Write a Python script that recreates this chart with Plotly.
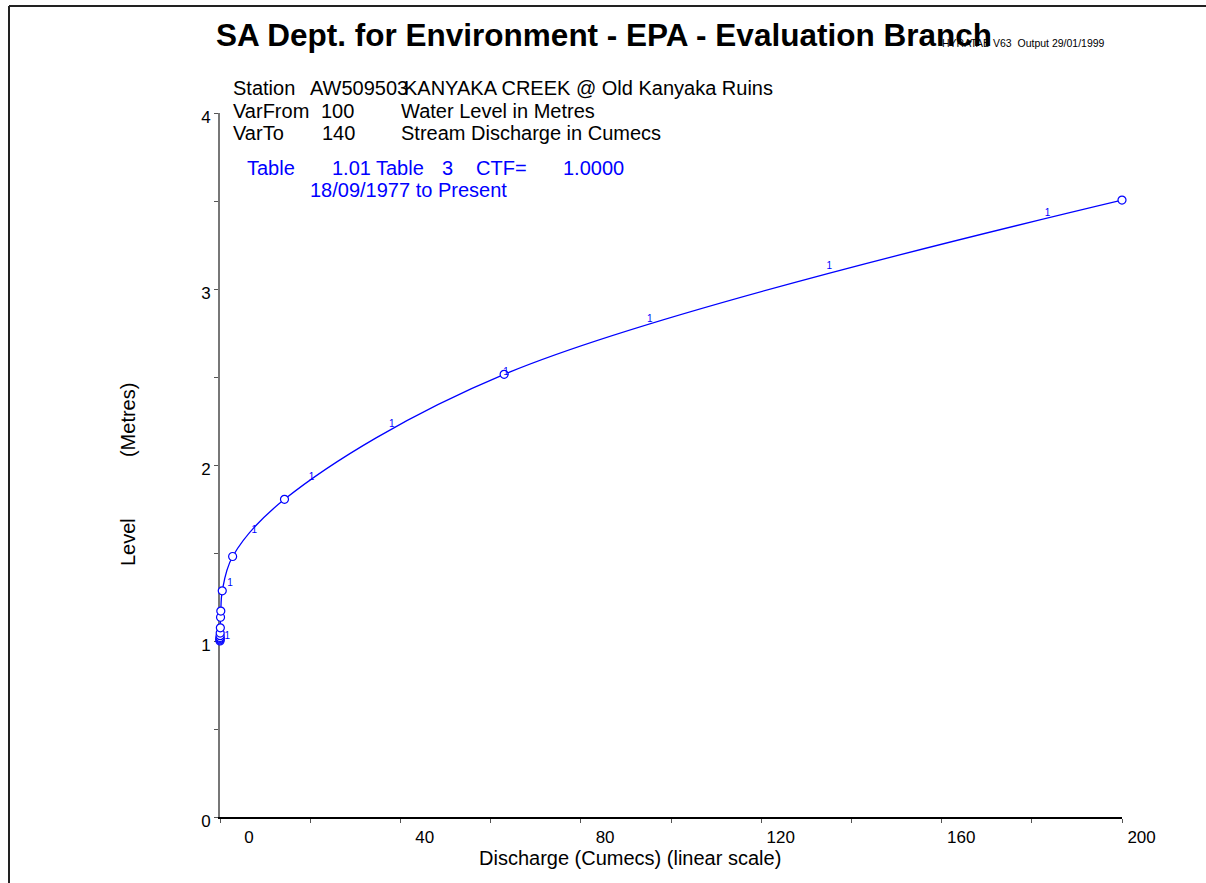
import plotly.graph_objects as go

# Rating table 1.01 points: discharge (cumecs) against level (metres)
discharge = [0.0, 0.001, 0.003, 0.006, 0.01, 0.02, 0.04, 0.08, 0.12, 0.18, 0.5, 2.8, 14.3, 63.0, 200.0]
level = [1.00, 1.005, 1.01, 1.015, 1.02, 1.03, 1.045, 1.075, 1.135, 1.17, 1.285, 1.48, 1.805, 2.515, 3.505]

# Table-number tags placed along the curve every 0.3 m
tag_level = [1.0, 1.3, 1.6, 1.9, 2.2, 2.5, 2.8, 3.1, 3.4]
tag_discharge = [1.6, 2.2, 7.6, 20.3, 38.1, 63.4, 95.3, 135.1, 183.5]
tag_text = ["1"] * len(tag_level)

# Axis ticks
x_ticks = [0, 20, 40, 60, 80, 100, 120, 140, 160, 180, 200]
x_tick_text = ["0", "", "40", "", "80", "", "120", "", "160", "", "200"]
y_ticks = [0, 0.5, 1, 1.5, 2, 2.5, 3, 3.5, 4]
y_tick_text = ["0", "", "1", "", "2", "", "3", "", "4"]

# Header lines
header_rows = [
    ("Station", "AW509503", "KANYAKA CREEK @ Old Kanyaka Ruins"),
    ("VarFrom", "100", "Water Level in Metres"),
    ("VarTo", "140", "Stream Discharge in Cumecs"),
]
table_cells = ["Table", "1.01", "Table", "3", "CTF=", "1.0000"]
table_period = "18/09/1977 to Present"

FONT = "Liberation Sans, Arial, sans-serif"
BLUE = "#0000ff"

W, H = 1206, 883
L, R, T, B = 220, 84, 113, 66
PW, PH = W - L - R, H - T - B


def px(x):
    return (x - L) / PW


def py(y):
    return (H - B - y) / PH


fig = go.Figure()

fig.add_trace(go.Scatter(
    x=discharge, y=level,
    mode="lines+markers",
    line=dict(color=BLUE, width=1.3, shape="spline", smoothing=1.0),
    marker=dict(symbol="circle", size=8, color="white", line=dict(color=BLUE, width=1.2)),
    cliponaxis=False,
    showlegend=False,
    hoverinfo="x+y",
))

fig.add_trace(go.Scatter(
    x=tag_discharge, y=tag_level, text=tag_text,
    mode="text", textposition="top center",
    textfont=dict(family=FONT, size=10, color=BLUE),
    cliponaxis=False, showlegend=False, hoverinfo="skip",
))

ann = []
# Title and program stamp
ann.append(dict(text="<b>SA Dept. for Environment - EPA - Evaluation Branch</b>",
                x=px(214), y=py(35), xanchor="left", yanchor="middle",
                font=dict(family=FONT, size=31.5, color="black")))
ann.append(dict(text="HYRATAB V63  Output 29/01/1999",
                x=px(940), y=py(43), xanchor="left", yanchor="middle",
                font=dict(family=FONT, size=10.5, color="black")))

# Station header block
row_y = [88, 111, 133]
col_x_row = [[231, 308, 402], [231, 319, 399], [231, 320, 399]]
for r, cells in enumerate(header_rows):
    for c, txt in enumerate(cells):
        ann.append(dict(text=txt, x=px(col_x_row[r][c]), y=py(row_y[r]),
                        xanchor="left", yanchor="middle",
                        font=dict(family=FONT, size=20, color="black")))

table_x = [245, 330, 374, 440, 474, 561]
for txt, xx in zip(table_cells, table_x):
    ann.append(dict(text=txt, x=px(xx), y=py(168), xanchor="left", yanchor="middle",
                    font=dict(family=FONT, size=20, color=BLUE)))
ann.append(dict(text=table_period, x=px(308), y=py(190), xanchor="left", yanchor="middle",
                font=dict(family=FONT, size=20, color=BLUE)))

# Axis titles
ann.append(dict(text="Discharge (Cumecs) (linear scale)", x=px(630), y=py(858),
                xanchor="center", yanchor="middle",
                font=dict(family=FONT, size=20, color="black")))
ann.append(dict(text="Level" + "\u00a0" * 11 + "(Metres)", x=px(128), y=py(475),
                xanchor="center", yanchor="middle", textangle=-90,
                font=dict(family=FONT, size=20, color="black")))

for a in ann:
    a.update(xref="paper", yref="paper", showarrow=False)

# Page frame (top and left edges)
shapes = [
    dict(type="line", xref="paper", yref="paper", x0=px(9), x1=px(W), y0=py(6), y1=py(6),
         line=dict(color="#222222", width=2)),
    dict(type="line", xref="paper", yref="paper", x0=px(9), x1=px(9), y0=py(6), y1=py(H),
         line=dict(color="#222222", width=2)),
]

fig.update_layout(
    width=W, height=H,
    margin=dict(l=L, r=R, t=T, b=B, pad=0),
    paper_bgcolor="white", plot_bgcolor="white",
    annotations=ann, shapes=shapes,
    font=dict(family=FONT, color="black"),
)

fig.update_xaxes(
    range=[0, 200], tickmode="array", tickvals=x_ticks, ticktext=x_tick_text,
    ticks="outside", ticklen=4, tickwidth=1, tickcolor="#555555",
    showline=True, linecolor="black", linewidth=1.5, layer="below traces",
    showgrid=False, zeroline=False,
    ticklabelposition="outside left", ticklabelshift=35, ticklabelstandoff=4,
    tickfont=dict(family=FONT, size=17, color="black"),
)
fig.update_yaxes(
    range=[0, 4], tickmode="array", tickvals=y_ticks, ticktext=y_tick_text,
    ticks="outside", ticklen=4, tickwidth=1, tickcolor="#555555",
    showline=True, linecolor="#777777", linewidth=2, layer="below traces",
    showgrid=False, zeroline=False, ticklabelshift=4,
    tickfont=dict(family=FONT, size=17, color="black"),
)

fig.write_html("out.html")
